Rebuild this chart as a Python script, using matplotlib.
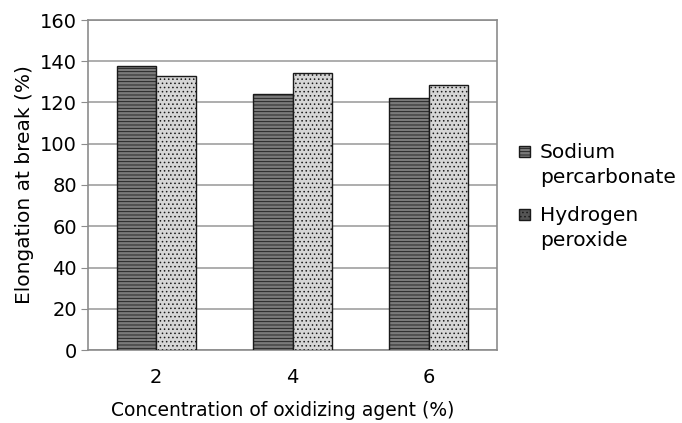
import matplotlib.pyplot as plt
from matplotlib.patches import Rectangle
import numpy as np

plt.rcParams['font.family'] = ['DejaVu Sans']
plt.rcParams['hatch.linewidth'] = 0.6

# data
concentrations = ['2', '4', '6']
sodium_percarbonate = [137.5, 124.0, 122.0]
hydrogen_peroxide = [133.0, 134.5, 128.5]
series_names = ['Sodium\npercarbonate', 'Hydrogen\nperoxide']
y_ticks = [0, 20, 40, 60, 80, 100, 120, 140, 160]

W, H = 682, 423
fig = plt.figure(figsize=(W / 100, H / 100), dpi=100)
ax = fig.add_axes([88 / W, 1 - 350 / H, 409 / W, 330 / H])

x = np.arange(len(concentrations))
w = 0.29
ax.bar(x - w / 2, sodium_percarbonate, w, color='#7a7a7a', edgecolor='#1a1a1a',
       hatch='-----', linewidth=1.0, zorder=3)
ax.bar(x + w / 2, hydrogen_peroxide, w, color='#d6d6d6', edgecolor='#1a1a1a',
       hatch='....', linewidth=1.0, zorder=3)

ax.set_xlim(-0.5, len(concentrations) - 0.5)
ax.set_ylim(0, 160)
ax.set_yticks(y_ticks)
ax.set_xticks(x)
ax.set_xticklabels(concentrations)
ax.yaxis.grid(True, color='#a0a0a0', linewidth=1.2, zorder=0)
for s in ax.spines.values():
    s.set_color('#8c8c8c')
    s.set_linewidth(1.2)
ax.tick_params(axis='y', length=5, color='#8c8c8c', labelsize=14, pad=3)
ax.tick_params(axis='x', length=0, labelsize=14, pad=13)

ax.set_xlabel('Concentration of oxidizing agent (%)', fontsize=13.5, labelpad=8)
ax.xaxis.set_label_coords(0.476, -0.155)
ax.set_ylabel('Elongation at break (%)', fontsize=14.5, labelpad=4)

# legend drawn by hand so the swatch sits next to the first line of each label
fills = [('#7a7a7a', '-----'), ('#555555', '....')]
tops = [146, 209]
for (fc, hatch), name, top in zip(fills, series_names, tops):
    fig.patches.append(Rectangle((519 / W, 1 - (top + 11) / H), 11 / W, 11 / H,
                                 transform=fig.transFigure, facecolor=fc,
                                 edgecolor='#1a1a1a', hatch=hatch, linewidth=1.0))
    fig.text(540 / W, 1 - (top - 3) / H, name, fontsize=14.5, va='top', ha='left',
             linespacing=1.42)

fig.savefig('out.png', dpi=100)
